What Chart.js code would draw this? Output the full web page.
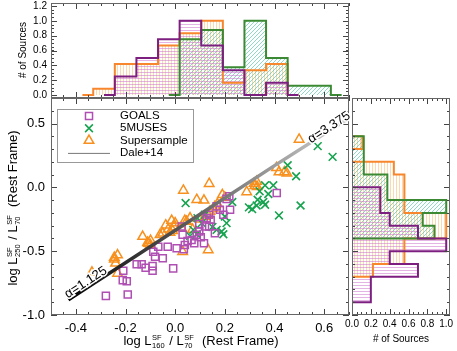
<!DOCTYPE html>
<html>
<head>
<meta charset="utf-8">
<script src="https://cdn.jsdelivr.net/npm/chart.js@4.4.0/dist/chart.umd.min.js"></script>
<style>
  html, body { margin: 0; padding: 0; background: #fff; }
  #wrap { position: relative; width: 457px; height: 351px; overflow: hidden; font-family: 'Liberation Sans', Arial, sans-serif; }
  #wrap canvas { position: absolute; left: 0; top: 0; }
  .ttl { position: absolute; white-space: nowrap; color: #000; font-size: 13px; line-height: 13px; }
  .small { font-size: 10px; line-height: 10px; }
  .ss { display: inline-block; font-size: 7.5px; line-height: 8px; vertical-align: -3px; margin: 0 1px 0 0.5px; }
  .ss span { display: block; }
</style>
</head>
<body>
<div id="wrap">
  <canvas id="topHist" width="457" height="351"></canvas>
  <canvas id="main" width="457" height="351"></canvas>
  <canvas id="rightHist" width="457" height="351"></canvas>
  <div class="ttl" id="xTitle" style="left:201px; top:342px; transform: translate(-50%, -50%);">log L<span class="ss"><span>SF</span><span>160</span></span> / L<span class="ss"><span>SF</span><span>70</span></span>&nbsp;&nbsp;(Rest Frame)</div>
  <div class="ttl" id="yTitle" style="left:14px; top:208px; transform: translate(-50%, -50%) rotate(-90deg);">log L<span class="ss"><span>SF</span><span>250</span></span> / L<span class="ss"><span>SF</span><span>70</span></span>&nbsp;&nbsp;(Rest Frame)</div>
  <div class="ttl small" style="left:23px; top:50px; transform: translate(-50%, -50%) rotate(-90deg);"># of Sources</div>
  <div class="ttl small" style="left:401px; top:339px; transform: translate(-50%, -50%);"># of Sources</div>
</div>
<script>
// scatter samples
const goalsX = [-0.279, -0.191, -0.209, -0.211, -0.195, -0.155, -0.135, -0.119, -0.091, -0.091,
  -0.088, -0.081, -0.05, -0.03, -0.068, -0.008, 0.006, 0.026, 0.03, 0.039,
  0.035, 0.066, 0.077, 0.087, 0.097, 0.097, 0.103, 0.116, 0.12, 0.127,
  0.136, 0.137, 0.143, 0.16, 0.167, 0.18, 0.194, 0.207, 0.218, 0.221,
  0.409, 0.05];
const goalsY = [-0.85, -0.84, -0.653, -0.727, -0.735, -0.603, -0.603, -0.63, -0.617, -0.653,
  -0.504, -0.543, -0.556, -0.465, -0.465, -0.635, -0.477, -0.307, -0.372, -0.451,
  -0.485, -0.412, -0.438, -0.372, -0.288, -0.346, -0.391, -0.438, -0.307, -0.241,
  -0.215, -0.307, -0.254, -0.359, -0.149, -0.175, -0.215, -0.09, -0.07, -0.175,
  -0.044, -0.42];

const musesX = [0.574, 0.634, 0.453, 0.487, 0.362, 0.395, 0.375, 0.34, 0.332, 0.355,
  0.362, 0.328, 0.297, 0.505, 0.042, 0.23, 0.31, 0.418, 0.2, 0.207,
  0.09, 0.107, 0.12, 0.187, 0.194, 0.073, 0.087, 0.167, 0.15, 0.06];
const musesY = [0.323, 0.239, 0.173, 0.087, 0.016, 0.016, -0.052, -0.03, -0.097, -0.115,
  -0.136, -0.142, -0.157, -0.142, -0.123, -0.115, -0.17, -0.22, -0.228, -0.28,
  -0.241, -0.28, -0.215, -0.346, -0.367, -0.333, -0.367, -0.333, -0.31, -0.38];

const superX = [-0.335, -0.232, -0.245, -0.24, -0.232, -0.245, -0.131, -0.111, -0.099, -0.108,
  -0.1, -0.061, -0.05, -0.038, -0.028, -0.021, -0.014, 0.0, -0.01, -0.005,
  0.026, 0.03, 0.033, 0.039, 0.06, 0.046, 0.07, 0.087, 0.116, 0.137,
  0.133, 0.133, 0.153, 0.12, 0.16, 0.17, 0.14, 0.1, 0.19, 0.2,
  0.288, 0.318, 0.321, 0.33, 0.328, 0.408, 0.418, 0.44, 0.45, 0.499];
const superY = [-0.666, -0.53, -0.564, -0.595, -0.674, -0.55, -0.386, -0.433, -0.417, -0.44,
  -0.45, -0.372, -0.36, -0.296, -0.328, -0.354, -0.26, -0.28, -0.34, -0.31,
  -0.32, -0.504, -0.024, -0.26, -0.241, -0.267, -0.33, -0.097, -0.102, 0.029,
  -0.49, -0.215, -0.168, -0.23, -0.15, -0.13, -0.19, -0.25, -0.058, -0.08,
  -0.036, 0.03, 0.012, 0.005, 0.045, 0.153, 0.12, 0.12, 0.11, 0.375];

// Dale+14 model track (alpha 1.125 -> 3.375)
const daleX = [-0.43, -0.2, 0.1, 0.4, 0.69];
const daleY = [-0.88, -0.59, -0.21, 0.17, 0.53];
const alphaLabels = ['\u03b1=1.125', '\u03b1=3.375'];

// top histogram (normalised counts), bins along log L160/L70
const topBinWidth = 0.087;
const topGoalsStart = -0.243;
const topGoals = [0.25, 0.5, 0.75, 1.0, 0.667, 0.333, 0, 0.167];
const topMusesStart = 0.018;
const topMuses = [0.75, 0.875, 0.375, 1.0, 0.5, 0.125, 0.125];
const topSuperStart = -0.33;
const topSuper = [0.083, 0.417, 0.417, 0.667, 0.833, 1.0, 0.167, 0.333, 0.417];

// right histogram (normalised counts), bins along log L250/L70, listed top to bottom
const rightBinWidth = 0.1;
const rightGoalsStart = 0.0;
const rightGoals = [0.3, 0.3, 0.4, 0.7, 1.0, 0.4, 0.7, 0.2, 0.2];
const rightMusesStart = 0.4;
const rightMuses = [0.125, 0.125, 0.125, 0.375, 0.375, 1.0, 0.75, 0.875];
const rightSuperStart = 0.7;
const rightSuper = [0, 0, 0, 0.111, 0, 0.444, 0.556, 0.556, 0.556, 1.0, 1.0, 0.556, 0.556, 0.222];

// tick labels
const mainXTicks = [-0.4, -0.2, 0.0, 0.2, 0.4, 0.6];
const mainYTicks = [-1.0, -0.5, 0.0, 0.5];
const histCountTicks = [0.0, 0.2, 0.4, 0.6, 0.8, 1.0, 1.2];
const rightCountTicks = [0.0, 0.2, 0.4, 0.6, 0.8, 1.0];

const PURPLE_LINE = '#7d1f80';
const GREEN_LINE = '#3b8a33';
const ORANGE_LINE = '#f7862d';
const PURPLE_PT = '#b04fb3';
const GREEN_PT = '#17a34f';
const ORANGE_PT = '#f7901e';

Chart.defaults.font.family = "'Liberation Sans', Arial, sans-serif";
Chart.defaults.color = '#000';

function hatch(kind, color) {
  const n = kind === 'diag' ? 4 : 3;
  const c = document.createElement('canvas');
  c.width = n;
  c.height = n;
  const g = c.getContext('2d');
  g.fillStyle = color;
  if (kind === 'h') g.fillRect(0, 0, n, 1);
  if (kind === 'v') g.fillRect(0, 0, 1, n);
  if (kind === 'diag') {
    for (let i = 0; i < n; i++) g.fillRect(i, n - 1 - i, 1, 1);
  }
  return g.createPattern(c, 'repeat');
}

const purpleHatch = hatch('h', 'rgba(205,120,205,0.55)');
const orangeHatch = hatch('v', 'rgba(250,185,110,0.55)');
const greenHatch = hatch('diag', 'rgba(50,190,150,0.55)');

function pts(xs, ys) {
  return xs.map((x, i) => ({ x: x, y: ys[i] }));
}

// outline of a step histogram along x, with half-bin zero tails
function topSteps(start, heights) {
  const w = topBinWidth;
  const out = [{ x: start - w / 2, y: 0 }, { x: start, y: 0 }];
  heights.forEach((h, i) => {
    out.push({ x: start + i * w, y: h }, { x: start + (i + 1) * w, y: h });
  });
  const end = start + heights.length * w;
  out.push({ x: end, y: 0 }, { x: end + w / 2, y: 0 });
  return out;
}

// same thing turned on its side, bins going down the y axis
function rightSteps(start, heights) {
  const w = rightBinWidth;
  const out = [{ x: 0, y: start + w / 2 }, { x: 0, y: start }];
  heights.forEach((h, i) => {
    out.push({ x: h, y: start - i * w }, { x: h, y: start - (i + 1) * w });
  });
  const end = start - heights.length * w;
  out.push({ x: 0, y: end }, { x: 0, y: end - w / 2 });
  return out;
}

function minorValues(min, max, step) {
  const vals = [];
  for (let k = Math.ceil(min / step - 1e-6); k * step <= max + 1e-6; k++) vals.push(k * step);
  return vals;
}

// IDL style box with inward ticks on all four sides
const framePlugin = {
  id: 'frame',
  afterDatasetsDraw(chart, args, o) {
    const { ctx, chartArea: a } = chart;
    const xs = chart.scales.x;
    const ys = chart.scales.y;
    ctx.save();
    ctx.lineWidth = 1;
    ctx.strokeStyle = '#444';
    const xTick = (v, len) => {
      const p = Math.round(xs.getPixelForValue(v)) + 0.5;
      ctx.beginPath();
      ctx.moveTo(p, a.bottom);
      ctx.lineTo(p, a.bottom - len);
      ctx.moveTo(p, a.top);
      ctx.lineTo(p, a.top + len);
      ctx.stroke();
    };
    const yTick = (v, len) => {
      const p = Math.round(ys.getPixelForValue(v)) + 0.5;
      ctx.beginPath();
      ctx.moveTo(a.left, p);
      ctx.lineTo(a.left + len, p);
      ctx.moveTo(a.right, p);
      ctx.lineTo(a.right - len, p);
      ctx.stroke();
    };
    minorValues(xs.min, xs.max, o.xMinor).forEach(v => xTick(v, 3));
    o.xMajor.forEach(v => xTick(v, 6));
    minorValues(ys.min, ys.max, o.yMinor).forEach(v => yTick(v, 3));
    o.yMajor.forEach(v => yTick(v, 6));
    ctx.strokeStyle = '#666';
    ctx.strokeRect(Math.round(a.left) + 0.5, Math.round(a.top) + 0.5,
      Math.round(a.right - a.left) - 1, Math.round(a.bottom - a.top) - 1);
    ctx.restore();
  }
};

const legendPlugin = {
  id: 'boxLegend',
  afterDatasetsDraw(chart, args, o) {
    const ctx = chart.ctx;
    ctx.save();
    ctx.strokeStyle = '#999';
    ctx.lineWidth = 1;
    ctx.strokeRect(o.left + 0.5, o.top + 0.5, o.width, o.height);
    chart.data.datasets.forEach((ds, i) => {
      const y = o.top + o.rowStart + i * o.rowGap;
      const x = o.markerX;
      const r = ds.pointRadius;
      ctx.beginPath();
      if (ds.pointStyle === 'rect') {
        const s = r * Math.SQRT1_2;
        ctx.rect(x - s, y - s, 2 * s, 2 * s);
      } else if (ds.pointStyle === 'crossRot') {
        const s = r * Math.SQRT1_2;
        ctx.moveTo(x - s, y - s); ctx.lineTo(x + s, y + s);
        ctx.moveTo(x - s, y + s); ctx.lineTo(x + s, y - s);
      } else if (ds.pointStyle === 'triangle') {
        ctx.moveTo(x, y - r);
        ctx.lineTo(x + r * 0.866, y + r / 2);
        ctx.lineTo(x - r * 0.866, y + r / 2);
        ctx.closePath();
      } else {
        ctx.moveTo(o.lineX0, y + 0.5);
        ctx.lineTo(o.lineX1, y + 0.5);
      }
      ctx.strokeStyle = ds.pointStyle ? ds.pointBorderColor : '#777';
      ctx.lineWidth = ds.pointStyle ? ds.pointBorderWidth : 1;
      ctx.stroke();
      ctx.fillStyle = '#000';
      ctx.font = "11.5px 'Liberation Sans', Arial, sans-serif";
      ctx.textBaseline = 'middle';
      ctx.fillText(ds.label, o.textX, y);
    });
    ctx.restore();
  }
};

// alpha labels set along the model line
const alphaPlugin = {
  id: 'alphaText',
  afterDatasetsDraw(chart, args, o) {
    const { ctx } = chart;
    const xs = chart.scales.x;
    const ys = chart.scales.y;
    const n = daleX.length - 1;
    const ang = Math.atan2(ys.getPixelForValue(daleY[n]) - ys.getPixelForValue(daleY[0]),
      xs.getPixelForValue(daleX[n]) - xs.getPixelForValue(daleX[0]));
    ctx.save();
    ctx.font = "13px 'Liberation Sans', Arial, sans-serif";
    ctx.textAlign = 'center';
    ctx.textBaseline = 'middle';
    alphaLabels.forEach((t, i) => {
      ctx.save();
      ctx.translate(xs.getPixelForValue(o.at[i][0]), ys.getPixelForValue(o.at[i][1]));
      ctx.rotate(ang);
      ctx.lineWidth = 3;
      ctx.strokeStyle = '#fff';
      ctx.strokeText(t, 0, 0);
      ctx.fillStyle = '#000';
      ctx.fillText(t, 0, 0);
      ctx.restore();
    });
    ctx.restore();
  }
};

function fixWidth(w) {
  return s => { s.width = w; s.paddingTop = 0; s.paddingBottom = 0; };
}
function fixHeight(h) {
  return s => { s.height = h; s.paddingLeft = 0; s.paddingRight = 0; };
}
function setTicks(list) {
  return s => { s.ticks = list.map(v => ({ value: v })); };
}
const fmt = v => Number(v).toFixed(1);
const noGrid = { display: false, drawTicks: false };

function histDataset(label, data, line, fillPattern) {
  return {
    label: label,
    data: data,
    borderColor: line,
    borderWidth: 2,
    backgroundColor: fillPattern,
    fill: 'shape',
    pointRadius: 0,
    tension: 0,
    borderJoinStyle: 'miter'
  };
}

// top histogram
new Chart(document.getElementById('topHist'), {
  type: 'line',
  data: {
    datasets: [
      histDataset('GOALS', topSteps(topGoalsStart, topGoals), PURPLE_LINE, purpleHatch),
      histDataset('5MUSES', topSteps(topMusesStart, topMuses), GREEN_LINE, greenHatch),
      histDataset('Supersample', topSteps(topSuperStart, topSuper), ORANGE_LINE, orangeHatch)
    ]
  },
  options: {
    responsive: false,
    animation: false,
    events: [],
    layout: { padding: { left: 0, right: 108, top: 3, bottom: 253 } },
    plugins: {
      legend: { display: false },
      tooltip: { enabled: false },
      filler: { drawTime: 'beforeDatasetsDraw' },
      frame: { xMajor: mainXTicks, xMinor: 0.05, yMajor: histCountTicks, yMinor: 0.05 }
    },
    scales: {
      x: { type: 'linear', display: false, min: -0.5, max: 0.7 },
      y: {
        type: 'linear', min: -0.04, max: 1.24,
        grid: noGrid, border: { display: false },
        ticks: { font: { size: 10 }, padding: 4, autoSkip: false, callback: fmt },
        afterBuildTicks: setTicks(histCountTicks),
        afterFit: fixWidth(51)
      }
    }
  },
  plugins: [framePlugin]
});

// main scatter panel
new Chart(document.getElementById('main'), {
  type: 'scatter',
  data: {
    datasets: [
      { label: 'GOALS', data: pts(goalsX, goalsY), pointStyle: 'rect', pointRadius: 5,
        pointBorderWidth: 1.5, pointBorderColor: PURPLE_PT, pointBackgroundColor: 'rgba(0,0,0,0)', order: 1 },
      { label: '5MUSES', data: pts(musesX, musesY), pointStyle: 'crossRot', pointRadius: 5.5,
        pointBorderWidth: 1.6, pointBorderColor: GREEN_PT, pointBackgroundColor: 'rgba(0,0,0,0)', order: 2 },
      { label: 'Supersample', data: pts(superX, superY), pointStyle: 'triangle', pointRadius: 5.5,
        pointBorderWidth: 1.5, pointBorderColor: ORANGE_PT, pointBackgroundColor: 'rgba(0,0,0,0)', order: 3 },
      { label: 'Dale+14', type: 'line', data: pts(daleX, daleY), pointRadius: 0, fill: false,
        borderWidth: 3.5, borderCapStyle: 'butt', order: 0,
        borderColor: c => {
          const ch = c.chart;
          const xs = ch.scales && ch.scales.x;
          if (!ch.chartArea || !xs) return '#444';
          const g = ch.ctx.createLinearGradient(xs.getPixelForValue(daleX[0]), 0,
            xs.getPixelForValue(daleX[daleX.length - 1]), 0);
          g.addColorStop(0, '#000');
          g.addColorStop(1, '#d4d4d4');
          return g;
        } }
    ]
  },
  options: {
    responsive: false,
    animation: false,
    events: [],
    layout: { padding: { left: 0, right: 108, top: 98, bottom: 12 } },
    plugins: {
      legend: { display: false },
      tooltip: { enabled: false },
      frame: { xMajor: mainXTicks, xMinor: 0.05, yMajor: mainYTicks, yMinor: 0.1 },
      boxLegend: { left: 57, top: 109, width: 136, height: 53, rowStart: 7, rowGap: 12.3,
        markerX: 89, textX: 120, lineX0: 68, lineX1: 110 },
      alphaText: { at: [[-0.36, -0.745], [0.62, 0.468]] }
    },
    scales: {
      x: {
        type: 'linear', min: -0.5, max: 0.7,
        grid: noGrid, border: { display: false },
        ticks: { font: { size: 13 }, padding: 6, autoSkip: false, maxRotation: 0, callback: fmt },
        afterBuildTicks: setTicks(mainXTicks),
        afterFit: fixHeight(24)
      },
      y: {
        type: 'linear', min: -1.0, max: 0.7,
        grid: noGrid, border: { display: false },
        ticks: { font: { size: 13 }, padding: 6, autoSkip: false, callback: fmt },
        afterBuildTicks: setTicks(mainYTicks),
        afterFit: fixWidth(51)
      }
    }
  },
  plugins: [framePlugin, legendPlugin, alphaPlugin]
});

// right histogram
new Chart(document.getElementById('rightHist'), {
  type: 'line',
  data: {
    datasets: [
      histDataset('GOALS', rightSteps(rightGoalsStart, rightGoals), PURPLE_LINE, purpleHatch),
      histDataset('5MUSES', rightSteps(rightMusesStart, rightMuses), GREEN_LINE, greenHatch),
      histDataset('Supersample', rightSteps(rightSuperStart, rightSuper), ORANGE_LINE, orangeHatch)
    ]
  },
  options: {
    responsive: false,
    animation: false,
    events: [],
    layout: { padding: { left: 352, right: 7, top: 98, bottom: 12 } },
    plugins: {
      legend: { display: false },
      tooltip: { enabled: false },
      filler: { drawTime: 'beforeDatasetsDraw' },
      frame: { xMajor: rightCountTicks, xMinor: 0.05, yMajor: mainYTicks, yMinor: 0.1 }
    },
    scales: {
      x: {
        type: 'linear', min: 0, max: 1.04,
        grid: noGrid, border: { display: false },
        ticks: { font: { size: 10 }, padding: 3, autoSkip: false, maxRotation: 0, callback: fmt },
        afterBuildTicks: setTicks(rightCountTicks),
        afterFit: fixHeight(24)
      },
      y: { type: 'linear', display: false, min: -1.0, max: 0.7 }
    }
  },
  plugins: [framePlugin]
});
</script>
</body>
</html>
